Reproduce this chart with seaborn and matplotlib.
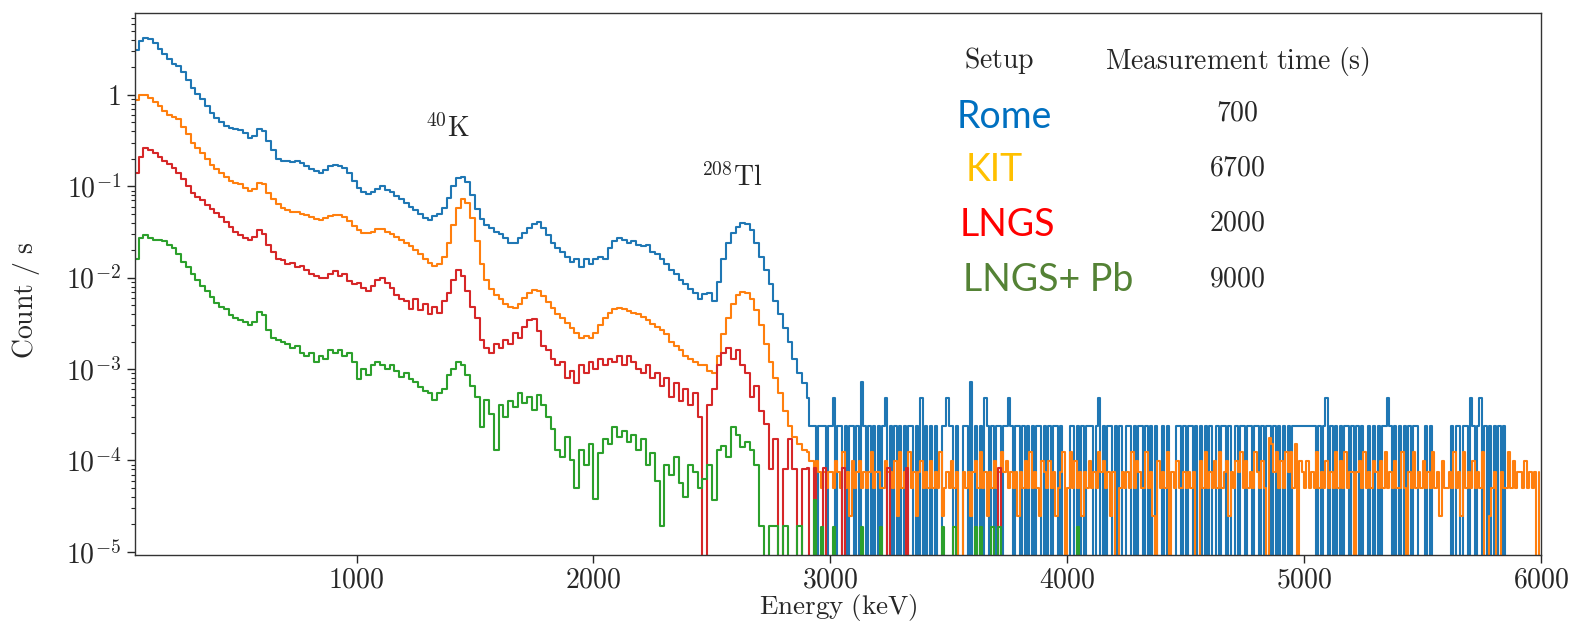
import numpy as np
import pandas as pd
import matplotlib
matplotlib.use("Agg")
import matplotlib.pyplot as plt
from matplotlib.ticker import FuncFormatter, LogLocator, NullFormatter
import seaborn as sns

# setups and measurement times (s), as in the table on the plot
setups = ["Rome", "KIT", "LNGS", "LNGS+ Pb"]
meas_time = [700, 6700, 2000, 9000]
line_colors = ["#1f77b4", "#ff7f0e", "#d62728", "#2ca02c"]
label_colors = ["#0070C0", "#FFC000", "#FF0000", "#548235"]

# low energy part: count/s in 20 keV bins, left edges 60, 80, ... 2880 keV
low_start, low_step = 60, 20
rome_low = [
    3.1, 3.9, 4.2, 4.1, 3.7, 3.2, 2.8, 2.45, 2.2, 2.1,
    1.8, 1.45, 1.18, 1.02, 0.9, 0.76, 0.63, 0.56, 0.5, 0.46,
    0.44, 0.42, 0.41, 0.38, 0.34, 0.36, 0.42, 0.40, 0.31, 0.25,
    0.20, 0.19, 0.19, 0.185, 0.19, 0.18, 0.165, 0.155, 0.148, 0.14,
    0.15, 0.165, 0.172, 0.168, 0.16, 0.14, 0.115, 0.097, 0.086, 0.082,
    0.087, 0.094, 0.10, 0.092, 0.086, 0.078, 0.072, 0.066, 0.060, 0.055,
    0.050, 0.045, 0.043, 0.047, 0.050, 0.058, 0.075, 0.10, 0.122, 0.128,
    0.112, 0.080, 0.056, 0.044, 0.038, 0.035, 0.032, 0.030, 0.027, 0.024,
    0.024, 0.027, 0.031, 0.035, 0.039, 0.041, 0.035, 0.029, 0.024, 0.021,
    0.019, 0.017, 0.015, 0.016, 0.013, 0.016, 0.014, 0.016, 0.017, 0.016,
    0.021, 0.025, 0.027, 0.026, 0.024, 0.025, 0.023, 0.022, 0.023, 0.019,
    0.018, 0.016, 0.014, 0.012, 0.011, 0.0095, 0.0085, 0.0075, 0.0068, 0.0058,
    0.0066, 0.0068, 0.0056, 0.009, 0.016, 0.024, 0.031, 0.036, 0.040, 0.039,
    0.033, 0.024, 0.017, 0.012, 0.0085, 0.0055, 0.0040, 0.0028, 0.0020, 0.0013,
    0.0009, 0.0007,
]
kit_low = [
    0.88, 1.0, 0.99, 0.93, 0.84, 0.75, 0.67, 0.61, 0.57, 0.54,
    0.45, 0.37, 0.30, 0.26, 0.23, 0.20, 0.17, 0.155, 0.14, 0.125,
    0.115, 0.11, 0.105, 0.097, 0.09, 0.093, 0.108, 0.105, 0.085, 0.072,
    0.064, 0.058, 0.055, 0.053, 0.052, 0.050, 0.049, 0.046, 0.044, 0.043,
    0.045, 0.047, 0.049, 0.048, 0.046, 0.042, 0.037, 0.033, 0.031, 0.031,
    0.032, 0.034, 0.034, 0.032, 0.030, 0.028, 0.026, 0.024, 0.022, 0.020,
    0.018, 0.016, 0.0145, 0.0135, 0.014, 0.017, 0.024, 0.038, 0.058, 0.072,
    0.066, 0.045, 0.025, 0.014, 0.0095, 0.0075, 0.0065, 0.0058, 0.0052, 0.0048,
    0.0047, 0.0052, 0.0060, 0.0068, 0.0073, 0.0072, 0.0063, 0.0054, 0.0046, 0.0040,
    0.0036, 0.0032, 0.0028, 0.0025, 0.0022, 0.0023, 0.0022, 0.0025, 0.0030, 0.0036,
    0.0041, 0.0045, 0.0047, 0.0045, 0.0043, 0.0041, 0.0040, 0.0037, 0.0034, 0.0031,
    0.0029, 0.0027, 0.0024, 0.0020, 0.0018, 0.0016, 0.0014, 0.0013, 0.0012, 0.0011,
    0.0011, 0.00095, 0.0009, 0.0014, 0.0024, 0.0036, 0.0052, 0.0064, 0.0070, 0.0068,
    0.0058, 0.0044, 0.0030, 0.0019, 0.0012, 0.0008, 0.00055, 0.00035, 0.00024, 0.00018,
    0.00015, 0.00013,
]
lngs_low = [
    0.14, 0.21, 0.26, 0.25, 0.23, 0.21, 0.19, 0.175, 0.16, 0.14,
    0.12, 0.10, 0.085, 0.077, 0.070, 0.062, 0.056, 0.051, 0.046, 0.041,
    0.036, 0.032, 0.029, 0.027, 0.026, 0.028, 0.033, 0.030, 0.023, 0.019,
    0.016, 0.0155, 0.014, 0.0145, 0.013, 0.0135, 0.012, 0.011, 0.0105, 0.010,
    0.0098, 0.011, 0.0118, 0.0105, 0.011, 0.0092, 0.0085, 0.0088, 0.0078, 0.0072,
    0.0082, 0.0094, 0.010, 0.0088, 0.0078, 0.0065, 0.0058, 0.0056, 0.0045, 0.0058,
    0.0044, 0.0052, 0.0040, 0.0048, 0.0041, 0.0055, 0.0068, 0.0095, 0.012, 0.0105,
    0.0072, 0.0048, 0.0036, 0.0021, 0.0017, 0.0015, 0.0019, 0.0017, 0.0021, 0.0019,
    0.0025, 0.0022, 0.0029, 0.0034, 0.0035, 0.0026, 0.0018, 0.0016, 0.0013, 0.0011,
    0.0012, 0.0008, 0.00095, 0.0007, 0.0011, 0.0009, 0.0012, 0.0010, 0.0013, 0.0011,
    0.0013, 0.0012, 0.0014, 0.0011, 0.0014, 0.0012, 0.0010, 0.0009, 0.0011, 0.0008,
    0.0009, 0.00065, 0.0008, 0.0005, 0.0007, 0.00045, 0.0006, 0.0004, 0.00055, 0.0003,
    0.0, 0.0004, 0.0006, 0.0011, 0.0015, 0.0017, 0.0013, 0.0016, 0.0011, 0.0009,
    0.0005, 0.00065, 0.00035, 0.00025, 0.00008, 0.00017, 0.0, 0.00008, 0.00017, 0.00008,
    0.0, 0.00008,
]
pb_low = [
    0.016, 0.027, 0.029, 0.027, 0.026, 0.026, 0.025, 0.023, 0.021, 0.018,
    0.015, 0.013, 0.011, 0.0095, 0.0082, 0.0072, 0.0062, 0.0053, 0.0048, 0.0045,
    0.0039, 0.0036, 0.0034, 0.0033, 0.0030, 0.0033, 0.0042, 0.0039, 0.0027, 0.0022,
    0.0021, 0.0020, 0.0019, 0.0017, 0.0018, 0.0015, 0.0014, 0.0015, 0.0012, 0.0014,
    0.0013, 0.0016, 0.0015, 0.0016, 0.0014, 0.0015, 0.0012, 0.00078, 0.0010, 0.00085,
    0.0011, 0.0012, 0.0011, 0.0010, 0.0011, 0.00095, 0.00082, 0.0009, 0.00078, 0.00072,
    0.00063, 0.00058, 0.00055, 0.00046, 0.00055, 0.0006, 0.00085, 0.0010, 0.0012, 0.0011,
    0.00085, 0.00065, 0.0005, 0.00023, 0.00046, 0.00032, 0.00013, 0.0004, 0.0003, 0.00045,
    0.00038, 0.00055, 0.00042, 0.0005, 0.00036, 0.00052, 0.0004, 0.0003, 0.00022, 0.00013,
    0.00011, 0.00018, 0.0001, 0.00005, 0.00013, 0.00009, 0.00015, 0.000038, 0.00012, 0.00017,
    0.00015, 0.00023, 0.00018, 0.00021, 0.00016, 0.00019, 0.00013, 0.00017, 0.00009, 0.00012,
    0.00006, 0.000019, 0.00009, 0.00007, 0.00011, 0.000056, 0.00004, 0.00009, 0.000075, 0.00005,
    0.000063, 0.00009, 0.000037, 0.00013, 0.000145, 0.00011, 0.00023, 0.00019, 0.00014, 0.00016,
    0.00013, 0.00009, 0.000019, 0.0, 0.000019, 0.000019, 0.0, 0.000019, 0.0, 0.0,
    0.000019, 0.0,
]

# high energy tail: raw counts in 10 keV bins from 2900 keV (one digit per bin,
# groups of 100 keV)
tail_start, tail_step = 2900, 10
rome_tail = """
2111011101 1201101011 0103101010 1012010101 0101101020
1010100112 1101001103 0101021010 1101121011 0101010110
1010110100 0110101011 1012010110 1010011010 1101010100
1010001101 0110101010 1001011010 0101101101 1010110101
0101011111 1111101012 0101010110 1010100101 0101121010
1010101100 0101000000 0010110110 2101201010 1010100000
0000000000
"""
kit_tail = """
5443432323 3243252314 2342323523 3224332415 2325231342
3242325123 2423003231 3425231324 2353423231 3242523214
3242312350 2524231324 2325342313 0023232524 3225231042
3250324223 2323004252 3242523413 2435242325 3242076352
4253526043 2423252324 2325242523 3034252324 3242523242
2520325232 4232523142 2325231523 2423250012 3003225242
3324232303
"""
lngs_tail = """
1001000100 0000010000 0000000000 0000100000 0010000000
0000000000 0000000000 0000000000 0100000000 0000000000
0000000000 0000000000 0000000000 0000000000 0000000000
0000000000 0000000000 0000000000 0000000000 0000000000
0000000000 0000000000 0000000000 0000000000 0000000000
0000000000 0000000000 0000000000 0000000000 0000000000
0000000000
"""
pb_tail = """
0002001000 0100000000 0001000000 0100000000 0000000000
0000000100 0010000000 0101000010 0100000000 0000000000
0000000000 0000100000 0000000000 0000000000 0000000000
0000000000 0000000000 0000000000 0000000000 0000000000
0000000000 0000000000 0000000000 0000000000 0000000000
0000000000 0000000000 0000000000 0000000000 0000000000
0000000000
"""

lows = [rome_low, kit_low, lngs_low, pb_low]
tails = [rome_tail, kit_tail, lngs_tail, pb_tail]

frames = []
for name, t, low, tail in zip(setups, meas_time, lows, tails):
    e_low = low_start + low_step * np.arange(len(low))
    counts = np.array([int(c) for c in "".join(tail.split())])
    e_tail = tail_start + tail_step * np.arange(len(counts))
    # one count in a tail bin, expressed in count/s
    rate_tail = counts / (6.0 * t)
    frames.append(pd.DataFrame({
        "energy": np.concatenate([e_low, e_tail]),
        "rate": np.concatenate([np.array(low, dtype=float), rate_tail]),
        "setup": name,
    }))
df = pd.concat(frames, ignore_index=True)

sns.set_theme(style="ticks")
plt.rcParams["mathtext.fontset"] = "cm"
plt.rcParams["font.family"] = ["DejaVu Serif"]

fig, ax = plt.subplots(figsize=(15.77, 6.22), dpi=100)
fig.subplots_adjust(left=135 / 1577, right=1541 / 1577, bottom=1 - 555 / 622, top=1 - 13 / 622)

sns.lineplot(data=df, x="energy", y="rate", hue="setup", hue_order=setups,
             palette=line_colors, estimator=None, drawstyle="steps-post",
             linewidth=1.5, legend=False, ax=ax)

ax.set_yscale("log")
ax.set_xlim(65, 6000)
ax.set_ylim(9.2e-6, 7.9)

ax.set_xticks([1000, 2000, 3000, 4000, 5000, 6000])
ax.xaxis.set_major_formatter(FuncFormatter(lambda v, p: r"$%d$" % v))
ax.yaxis.set_major_locator(LogLocator(base=10, numticks=20))
ax.yaxis.set_minor_locator(LogLocator(base=10, subs=np.arange(2, 10), numticks=20))
ax.yaxis.set_minor_formatter(NullFormatter())


def ylab(v, p):
    k = int(round(np.log10(v)))
    return r"$1$" if k == 0 else r"$10^{%d}$" % k


ax.yaxis.set_major_formatter(FuncFormatter(ylab))
ax.tick_params(axis="both", which="major", labelsize=20, length=6, width=1, direction="out", pad=4)
ax.tick_params(axis="x", which="major", pad=2)
ax.tick_params(axis="y", which="minor", length=3, width=0.8, direction="out")
ax.tick_params(axis="x", which="minor", length=0)
for s in ax.spines.values():
    s.set_linewidth(1.0)
    s.set_color("#333333")

ax.set_xlabel(r"$\mathrm{Energy\ (keV)}$", fontsize=19.5)
ax.set_ylabel(r"$\mathrm{Count\ /\ s}$", fontsize=20)
ax.xaxis.set_label_coords(0.5, -0.069)
ax.yaxis.set_label_coords(-0.066, 0.47)

# isotope labels
ax.text(1384, 0.43, r"$^{40}\mathrm{K}$", fontsize=20, ha="center", va="center")
ax.text(2584, 0.123, r"$^{208}\mathrm{Tl}$", fontsize=20, ha="center", va="center")

# setup / measurement time table
fig.text(0.6335, 0.902, r"$\mathrm{Setup}$", fontsize=20, ha="center", va="center")
fig.text(0.7847, 0.901, r"$\mathrm{Measurement\ time\ (s)}$", fontsize=20, ha="center", va="center")
label_x = [0.6068, 0.6125, 0.6088, 0.6104]
label_y = [0.812, 0.727, 0.638, 0.550]
num_y = [0.818, 0.730, 0.641, 0.5515]
for name, t, c, lx, ly, ny in zip(setups, meas_time, label_colors, label_x, label_y, num_y):
    fig.text(lx, ly, name, fontsize=27, family="Lato", color=c, ha="left", va="center")
    fig.text(0.7845, ny, r"$%d$" % t, fontsize=20, ha="center", va="center")

fig.savefig("out.png", dpi=100)
